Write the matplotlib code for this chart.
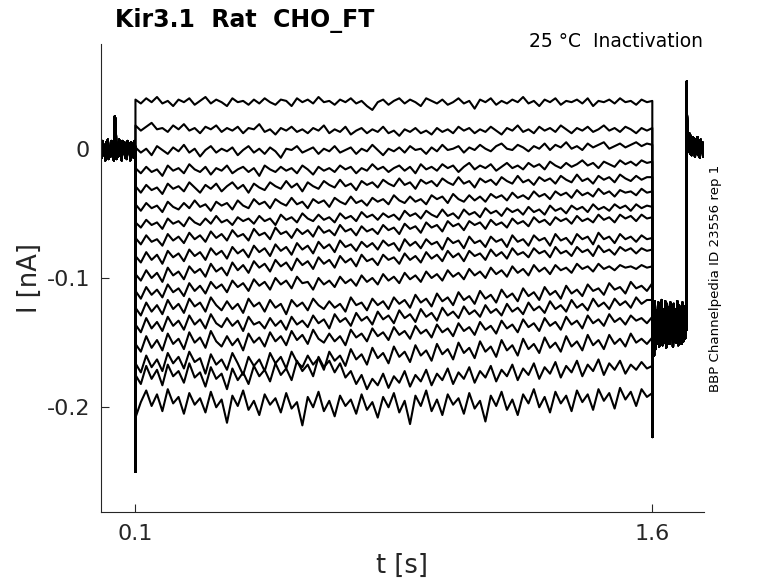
import numpy as np
import matplotlib
matplotlib.use("Agg")
import matplotlib.pyplot as plt

# current in pA
# holding period before the step (0 - 0.1 s), shared by all sweeps
pre_vals = [1,-7,6,-5,3,-9,5,-3,7,-8,2,-6,6,-4,4,-9,25,22,-8,3,-6,7,-5,2,-9,
            6,-4,5,-7,3,-8,6,-3,4,-9,5,-6,2,-7,6,-2]
onset_spike = -250
offset_spike = -223
# tail step (1.6 - 1.7 s), shared
tail_vals = [-168,-122,-160,-118,-155,-125,-151,-119,-153,-121,-149,-117,-152,-124,
             -150,-118,-154,-120,-148,-123,-151,-119,-147,-122,-153,-120,-149,-124,
             -150,-118,-152,-121,-148,-123,-151,-119,-149,-122,-147,-124,-140]
return_spike = 52
# back to holding (1.7 - 1.75 s)
post_vals = [30,14,-2,12,-4,10,-5,9,-3,8,-6,7,-4,9,-5,6,-7,7,-3,5,-6,4]

# test step sweeps (0.1 - 1.6 s)
sweeps = [
    [38,35,39,36,40,35,37,33,38,36,39,34,37,40,35,38,36,33,39,36,37,34,38,35,39,36,34,38,
     37,33,39,36,38,35,40,36,37,34,38,36,39,35,37,33,30,36,38,34,37,39,35,38,36,33,39,37,
     35,38,34,36,39,35,37,31,38,36,39,34,37,35,38,36,40,35,37,33,38,36,39,34,37,36,38,35,
     39,33,37,36,38,35,39,36,37,34,38,36,37],
    [18,14,17,20,15,16,13,18,15,19,14,16,12,17,15,18,13,16,14,17,12,16,15,19,13,15,11,16,
     14,17,13,15,12,16,14,18,12,15,13,17,11,14,16,12,15,13,17,12,14,10,15,13,16,12,14,11,
     16,13,15,12,17,14,16,12,15,13,17,14,11,16,14,18,13,15,12,17,14,16,13,18,15,12,16,14,
     17,13,15,18,14,16,13,17,15,12,16,14,16],
    [1,-3,0,-5,2,-1,-4,1,-2,3,-3,0,-6,-1,2,-3,0,-2,1,-5,-1,2,-3,0,-4,1,-2,-7,0,-1,2,-3,
     -1,1,-4,0,-2,2,-3,-1,1,-4,0,-2,3,-1,-5,0,-2,1,-3,2,-1,0,-4,1,-2,3,-1,0,2,-3,1,-1,3,0,
     -2,2,4,0,-1,3,1,-2,2,0,4,-1,3,1,5,0,2,-1,4,1,3,5,0,2,4,1,3,5,2,4,3],
    [-15,-19,-14,-18,-16,-21,-13,-17,-15,-19,-12,-16,-18,-14,-20,-15,-17,-13,-19,-16,-14,
     -18,-15,-21,-13,-16,-18,-14,-17,-15,-19,-13,-16,-20,-14,-17,-15,-18,-13,-16,-14,-19,
     -15,-17,-12,-16,-14,-18,-15,-13,-17,-14,-19,-12,-16,-14,-17,-12,-15,-13,-18,-14,-11,
     -16,-13,-15,-12,-17,-14,-11,-15,-13,-16,-11,-14,-12,-16,-10,-13,-15,-11,-14,-12,-9,
     -13,-11,-15,-10,-12,-14,-9,-12,-10,-13,-9,-11,-10],
    [-29,-34,-28,-32,-30,-35,-27,-31,-29,-33,-26,-30,-34,-28,-31,-27,-33,-29,-26,-31,-28,
     -34,-27,-30,-32,-26,-29,-31,-25,-30,-27,-33,-26,-29,-31,-25,-28,-30,-24,-29,-27,-32,
     -25,-28,-26,-30,-24,-27,-29,-23,-28,-26,-31,-24,-27,-25,-29,-23,-26,-28,-22,-27,-25,
     -30,-23,-26,-24,-28,-22,-25,-27,-21,-26,-24,-28,-22,-25,-23,-27,-21,-24,-26,-20,-25,
     -23,-27,-21,-24,-22,-26,-20,-23,-25,-21,-24,-22,-22],
    [-43,-48,-42,-46,-44,-49,-41,-45,-47,-42,-46,-40,-45,-43,-48,-41,-44,-42,-47,-40,-44,
     -46,-39,-43,-41,-46,-39,-42,-44,-38,-43,-41,-46,-39,-42,-40,-45,-38,-41,-43,-37,-42,
     -40,-44,-38,-41,-39,-43,-36,-40,-42,-37,-41,-39,-43,-36,-39,-37,-42,-35,-39,-41,-36,
     -40,-37,-41,-35,-38,-36,-40,-34,-38,-36,-39,-33,-37,-35,-39,-33,-36,-34,-38,-32,-36,
     -34,-37,-31,-35,-33,-37,-32,-34,-33,-36,-31,-34,-33],
    [-57,-61,-55,-59,-57,-62,-54,-58,-56,-60,-53,-57,-59,-54,-58,-52,-57,-55,-59,-53,-56,
     -54,-58,-52,-56,-54,-59,-51,-55,-53,-57,-50,-54,-56,-51,-55,-53,-57,-50,-54,-52,-56,
     -49,-53,-51,-55,-50,-53,-51,-55,-48,-52,-50,-54,-48,-51,-53,-47,-52,-50,-54,-47,-51,
     -49,-53,-46,-50,-48,-52,-46,-49,-47,-51,-45,-49,-47,-51,-44,-48,-46,-50,-44,-47,-45,
     -49,-43,-47,-45,-48,-43,-46,-44,-48,-43,-46,-44,-45],
    [-69,-74,-67,-72,-70,-75,-66,-71,-68,-73,-65,-70,-67,-72,-64,-69,-66,-71,-63,-68,-66,
     -71,-62,-67,-65,-70,-61,-66,-64,-69,-62,-66,-63,-68,-60,-65,-63,-67,-59,-64,-62,-67,
     -60,-64,-62,-66,-59,-63,-61,-66,-58,-62,-60,-65,-57,-61,-59,-64,-56,-60,-58,-63,-56,
     -59,-57,-62,-55,-59,-57,-61,-54,-58,-56,-60,-53,-57,-55,-59,-53,-56,-54,-58,-52,-56,
     -54,-57,-51,-55,-53,-57,-51,-54,-52,-56,-51,-54,-53],
    [-83,-88,-80,-86,-82,-89,-79,-84,-81,-87,-78,-83,-80,-86,-77,-82,-79,-85,-76,-81,-78,
     -84,-75,-80,-77,-83,-74,-79,-76,-82,-73,-78,-75,-81,-72,-77,-74,-80,-71,-76,-74,-79,
     -72,-76,-73,-78,-71,-75,-73,-79,-70,-75,-72,-77,-70,-74,-72,-78,-69,-73,-71,-77,-68,
     -73,-71,-76,-68,-72,-70,-76,-67,-72,-70,-75,-67,-71,-69,-75,-66,-71,-69,-74,-66,-70,
     -68,-74,-65,-70,-68,-73,-66,-70,-68,-72,-67,-70,-69],
    [-97,-102,-94,-100,-96,-103,-92,-98,-95,-101,-91,-96,-93,-99,-89,-95,-92,-98,-88,-94,
     -90,-96,-87,-92,-89,-95,-86,-91,-88,-94,-85,-90,-87,-93,-84,-89,-86,-92,-83,-88,-85,
     -91,-82,-87,-85,-90,-82,-86,-84,-89,-81,-86,-83,-88,-80,-85,-82,-87,-79,-84,-81,-87,
     -79,-83,-81,-86,-78,-83,-80,-85,-77,-82,-80,-84,-77,-81,-79,-84,-76,-81,-79,-83,-76,
     -80,-78,-83,-75,-80,-78,-82,-76,-79,-77,-81,-77,-79,-78],
    [-110,-116,-107,-113,-109,-115,-105,-111,-108,-114,-104,-110,-106,-112,-103,-108,-105,
     -111,-102,-107,-104,-110,-101,-106,-103,-109,-100,-105,-102,-108,-99,-104,-103,-109,
     -100,-105,-102,-107,-99,-104,-101,-106,-98,-103,-100,-105,-97,-102,-99,-104,-96,-101,
     -98,-103,-95,-100,-97,-102,-94,-99,-96,-101,-93,-98,-95,-100,-92,-97,-94,-99,-91,-96,
     -93,-98,-90,-95,-92,-97,-90,-94,-92,-96,-89,-93,-91,-95,-89,-93,-91,-94,-90,-92,-91,
     -93,-90,-92,-91],
    [-123,-129,-119,-126,-121,-128,-117,-124,-120,-127,-116,-122,-119,-126,-115,-121,-125,
     -118,-124,-120,-127,-116,-122,-119,-126,-117,-123,-120,-128,-117,-122,-119,-125,-116,
     -121,-124,-118,-123,-120,-126,-115,-121,-119,-125,-116,-121,-118,-124,-115,-120,-117,
     -123,-113,-119,-116,-122,-112,-118,-115,-121,-111,-117,-114,-120,-110,-116,-113,-119,
     -109,-115,-112,-118,-108,-114,-111,-117,-107,-113,-110,-116,-106,-112,-109,-114,-105,
     -110,-108,-113,-104,-109,-107,-112,-103,-108,-106,-110,-104],
    [-136,-142,-131,-139,-134,-141,-130,-137,-133,-140,-129,-136,-132,-139,-128,-135,-138,
     -131,-137,-133,-141,-130,-136,-134,-139,-131,-137,-133,-140,-130,-136,-133,-138,-129,
     -135,-132,-139,-128,-134,-131,-137,-127,-133,-130,-136,-126,-132,-129,-135,-125,-131,
     -128,-134,-124,-130,-127,-133,-123,-129,-126,-131,-122,-128,-125,-130,-121,-127,-124,
     -129,-120,-126,-123,-128,-119,-125,-122,-127,-118,-124,-121,-126,-117,-123,-120,-125,
     -116,-122,-119,-124,-116,-121,-118,-123,-115,-120,-117,-117],
    [-151,-157,-145,-154,-148,-156,-143,-151,-147,-155,-142,-150,-146,-154,-141,-149,-153,
     -145,-152,-147,-156,-143,-150,-146,-153,-142,-149,-145,-152,-141,-148,-144,-151,-140,
     -147,-150,-143,-149,-145,-152,-140,-146,-143,-149,-139,-145,-142,-148,-138,-144,-141,
     -147,-137,-143,-140,-146,-136,-142,-139,-145,-135,-141,-138,-144,-134,-140,-137,-143,
     -133,-139,-136,-142,-132,-138,-135,-141,-131,-137,-134,-140,-130,-136,-133,-139,-129,
     -135,-132,-137,-128,-134,-131,-136,-129,-133,-131,-135,-130],
    [-166,-173,-160,-169,-163,-172,-158,-166,-161,-170,-157,-165,-162,-174,-159,-167,-163,
     -171,-158,-166,-175,-161,-168,-163,-172,-158,-166,-161,-170,-157,-165,-169,-160,-167,
     -162,-171,-157,-164,-160,-168,-155,-163,-159,-167,-154,-162,-158,-166,-153,-161,-157,
     -165,-152,-160,-156,-164,-151,-159,-155,-163,-150,-158,-154,-162,-149,-157,-153,-161,
     -148,-156,-152,-160,-147,-155,-151,-158,-146,-154,-150,-157,-145,-153,-149,-156,-144,
     -152,-148,-155,-144,-151,-147,-153,-143,-150,-147,-151,-146],
    [-175,-182,-168,-178,-171,-183,-167,-176,-172,-181,-166,-177,-173,-184,-169,-178,-174,
     -186,-170,-179,-173,-182,-168,-176,-171,-180,-166,-175,-170,-179,-164,-172,-167,-176,
     -161,-169,-164,-173,-166,-177,-172,-182,-175,-186,-178,-183,-174,-185,-176,-181,-172,
     -184,-175,-180,-171,-183,-174,-179,-170,-182,-173,-178,-169,-181,-172,-177,-168,-180,
     -171,-176,-167,-179,-170,-175,-166,-178,-169,-174,-165,-177,-168,-173,-164,-176,-167,
     -172,-163,-175,-166,-171,-164,-174,-167,-171,-165,-170,-168],
    [-208,-196,-187,-199,-190,-203,-186,-197,-192,-205,-189,-198,-193,-204,-188,-200,-194,
     -212,-191,-199,-187,-202,-195,-206,-190,-198,-193,-204,-189,-201,-196,-214,-192,-200,
     -188,-203,-195,-207,-191,-199,-194,-205,-190,-202,-196,-208,-192,-200,-189,-204,-195,
     -213,-191,-199,-187,-203,-194,-206,-190,-198,-193,-205,-189,-201,-195,-211,-191,-199,
     -188,-202,-194,-206,-190,-197,-186,-200,-192,-204,-188,-197,-191,-203,-187,-196,-190,
     -202,-186,-195,-189,-201,-185,-194,-188,-199,-186,-192,-189],
]

t_on, t_off, t_ret, t_end = 0.1, 1.6, 1.7, 1.75

fig = plt.figure(figsize=(7.78, 5.83), dpi=100)
ax = fig.add_axes([101/778, 1-512/583, 603/778, 468/583])

pre_t = np.linspace(0, t_on, len(pre_vals))
tail_t = np.linspace(t_off, t_ret, len(tail_vals))
post_t = np.linspace(t_ret, t_end, len(post_vals))

for s in sweeps:
    step_t = np.linspace(t_on, t_off, len(s))
    t = np.concatenate([pre_t, [t_on], step_t, [t_off], tail_t, [t_ret], post_t])
    y = np.concatenate([pre_vals, [onset_spike], s, [offset_spike], tail_vals,
                        [return_spike], post_vals]) / 1000.0
    ax.plot(t, y, color='black', lw=1.5)

ax.set_xlim(0, t_end)
ax.set_ylim(-0.281, 0.081)
ax.set_xticks([0.1, 1.6])
ax.set_xticklabels(['0.1', '1.6'])
ax.set_yticks([-0.2, -0.1, 0])
ax.set_yticklabels(['-0.2', '-0.1', '0'])

for sp in ['top', 'right']:
    ax.spines[sp].set_visible(False)
for sp in ['left', 'bottom']:
    ax.spines[sp].set_color('#262626')
    ax.spines[sp].set_linewidth(0.8)
ax.tick_params(direction='in', length=6, width=0.8, colors='#262626',
               labelsize=16)
ax.tick_params(axis='x', pad=9)
ax.tick_params(axis='y', pad=8)

ax.set_xlabel('t [s]', fontsize=18.5, color='#262626')
ax.set_ylabel('I [nA]', fontsize=18.5, color='#262626')
ax.xaxis.set_label_coords(0.5, -0.088)
ax.yaxis.set_label_coords(-0.097, 0.5)

fig.text(115/778, 1-27/583, 'Kir3.1  Rat  CHO_FT', fontsize=17,
         fontweight='bold', ha='left', va='baseline')
fig.text(703/778, 1-47/583, '25 °C  Inactivation', fontsize=13.5,
         ha='right', va='baseline')
fig.text(716/778, 1-278/583, 'BBP Channelpedia ID 23556 rep 1', fontsize=9.6,
         rotation=90, ha='center', va='center')

fig.savefig('out.png', dpi=100)
